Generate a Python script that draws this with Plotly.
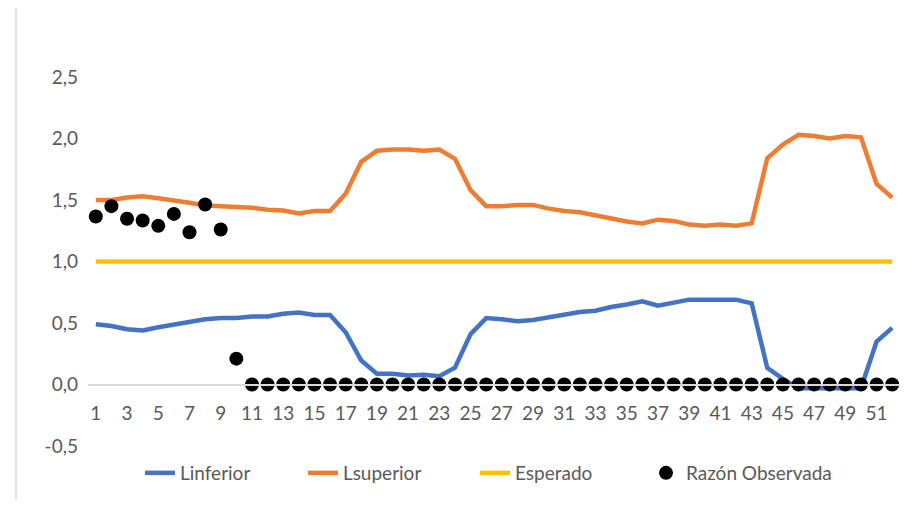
import plotly.graph_objects as go

weeks = list(range(1, 53))

linferior = [0.49, 0.475, 0.45, 0.44, 0.466, 0.49, 0.51, 0.53, 0.54, 0.54,
             0.553, 0.553, 0.575, 0.585, 0.565, 0.565, 0.425, 0.195, 0.087, 0.087,
             0.073, 0.08, 0.067, 0.137, 0.41, 0.54, 0.53, 0.515, 0.525, 0.547,
             0.57, 0.59, 0.60, 0.63, 0.65, 0.677, 0.64, 0.665, 0.69, 0.69,
             0.69, 0.69, 0.66, 0.135, 0.046, -0.03, -0.03, -0.03, -0.03, -0.03,
             0.35, 0.46]

lsuperior = [1.50, 1.50, 1.52, 1.53, 1.515, 1.50, 1.477, 1.455, 1.45, 1.45,
             1.437, 1.42, 1.415, 1.39, 1.41, 1.41, 1.55, 1.81, 1.90, 1.91,
             1.91, 1.90, 1.91, 1.835, 1.58, 1.45, 1.45, 1.46, 1.46, 1.43,
             1.41, 1.40, 1.375, 1.35, 1.325, 1.31, 1.34, 1.33, 1.30, 1.29,
             1.30, 1.29, 1.31, 1.84, 1.95, 2.03, 2.02, 2.00, 2.02, 2.01,
             1.63, 1.52]

esperado = [1.0] * 52

razon_observada = [1.366, 1.45, 1.347, 1.333, 1.29, 1.387, 1.238, 1.463, 1.26, 0.21] + [0.0] * 42

x_ticks = list(range(1, 53, 2))
y_ticks = [-0.5, 0.0, 0.5, 1.0, 1.5, 2.0, 2.5]
y_tick_labels = [f"{v:.1f}".replace(".", ",") for v in y_ticks]
y_min, y_max = -0.5, 2.5

FONT = "Lato, Carlito, Calibri, sans-serif"
GRAY = "#595959"

# figure geometry (page is offset by the 8px body margin)
W, H = 906, 491
ML, MR, MT, MB = 80, 14, 69, 53
PW = W - ML - MR
PH = H - MT - MB

def px_to_paper_x(page_x):
    return (page_x - 8 - ML) / PW

def px_to_paper_y(page_y):
    return 1 - (page_y - 8 - MT) / PH

fig = go.Figure()
fig.add_trace(go.Scatter(x=weeks, y=linferior, mode="lines", name="Linferior",
                         line=dict(color="#4472C4", width=4.5), legend="legend"))
fig.add_trace(go.Scatter(x=weeks, y=lsuperior, mode="lines", name="Lsuperior",
                         line=dict(color="#ED7D31", width=4.5), legend="legend2"))
fig.add_trace(go.Scatter(x=weeks, y=esperado, mode="lines", name="Esperado",
                         line=dict(color="#FFC000", width=4.5), legend="legend3"))
fig.add_trace(go.Scatter(x=weeks, y=razon_observada, mode="markers", name="Razón Observada",
                         marker=dict(color="black", size=14), legend="legend4"))

legend_text_starts = [180, 343, 515, 686]
TEXT_OFFSET = 40
legend_y = px_to_paper_y(473)

def legend_cfg(text_x):
    return dict(x=px_to_paper_x(text_x - TEXT_OFFSET), xanchor="left",
                y=legend_y, yanchor="middle", orientation="h",
                bgcolor="rgba(0,0,0,0)",
                font=dict(family=FONT, size=19, color=GRAY))

fig.update_layout(
    width=W, height=H,
    margin=dict(l=ML, r=MR, t=MT, b=MB, autoexpand=False),
    paper_bgcolor="white", plot_bgcolor="white",
    separators=",.",
    font=dict(family=FONT, size=19, color=GRAY),
    showlegend=True,
    legend=legend_cfg(legend_text_starts[0]),
    legend2=legend_cfg(legend_text_starts[1]),
    legend3=legend_cfg(legend_text_starts[2]),
    legend4=legend_cfg(legend_text_starts[3]),
    xaxis=dict(range=[0.5, 52.5], tickmode="array", tickvals=x_ticks,
               showgrid=False, zeroline=False, showline=True, linecolor="#d9d9d9",
               linewidth=1.5, ticks="", anchor="free",
               position=(0 - y_min) / (y_max - y_min),
               ticklabelstandoff=12,
               tickfont=dict(family=FONT, size=19, color=GRAY)),
    yaxis=dict(range=[y_min, y_max], tickmode="array", tickvals=y_ticks,
               ticktext=y_tick_labels, showgrid=False, zeroline=False, showline=False,
               ticks="", ticklabelstandoff=9,
               tickfont=dict(family=FONT, size=19, color=GRAY)),
    shapes=[dict(type="line", xref="paper", yref="paper",
                 x0=px_to_paper_x(16), x1=px_to_paper_x(16), y0=-0.3, y1=1.3,
                 line=dict(color="#d9d9d9", width=1.5))],
)

fig.write_html("out.html")
